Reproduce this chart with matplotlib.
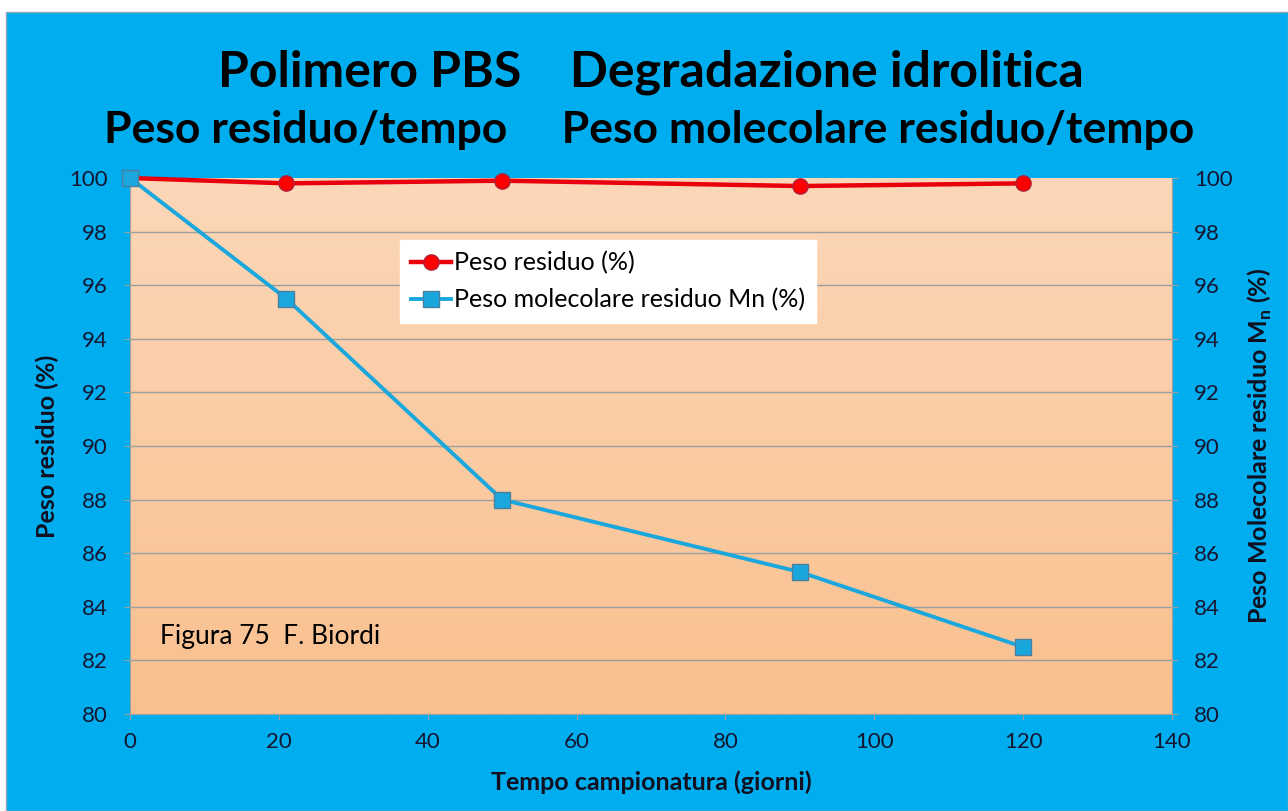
import matplotlib
matplotlib.use("Agg")
import matplotlib.pyplot as plt
from matplotlib.patches import Rectangle
from matplotlib.colors import LinearSegmentedColormap
import numpy as np

plt.rcParams['font.family'] = ['Lato', 'DejaVu Sans']

# data
giorni = [0, 21, 50, 90, 120]
peso_residuo = [100, 99.8, 99.9, 99.7, 99.8]
peso_mn = [100, 95.5, 88.0, 85.3, 82.5]
yticks = list(range(80, 101, 2))
xticks = list(range(0, 141, 20))

fig = plt.figure(figsize=(12.88, 8.11), dpi=100, facecolor='white')
# blue panel behind everything
fig.patches.append(Rectangle((6/1288, 0), 1 - 6/1288, 1 - 12/811, transform=fig.transFigure,
                             facecolor='#00AEEF', edgecolor='#8FA8B8', lw=1, zorder=-10))

ax = fig.add_axes([130/1288, 1 - 714/811, 1042/1288, 536/811])
ax.set_xlim(0, 140)
ax.set_ylim(80, 100)

# peach gradient background
grad = np.linspace(0, 1, 256).reshape(-1, 1)
cmap = LinearSegmentedColormap.from_list('peach', ['#FCD7B8', '#F9C08F'])
ax.imshow(grad, extent=[0, 140, 80, 100], aspect='auto', cmap=cmap, origin='upper', zorder=0)

for y in yticks[1:-1]:
    ax.axhline(y, color='#9E9E9E', lw=1, zorder=1)

ax.plot(giorni, peso_residuo, color='#E8000B', lw=3.2, marker='o', ms=11,
        markerfacecolor='#FF0000', markeredgecolor='#B0203A', markeredgewidth=1,
        label='Peso residuo (%)', zorder=3, clip_on=False)
ax.plot(giorni, peso_mn, color='#1AA7DD', lw=2.8, marker='s', ms=11,
        markerfacecolor='#1AA7DD', markeredgecolor='#4A7FA0', markeredgewidth=1,
        label='Peso molecolare residuo Mn (%)', zorder=4, clip_on=False)

tick_color = '#151530'
ax.set_xticks(xticks)
ax.set_yticks(yticks)
ax.tick_params(axis='both', colors='#9E9E9E', labelcolor=tick_color, labelsize=16, length=4)
ax.tick_params(axis='y', pad=12)
ax.tick_params(axis='x', pad=9)
for s in ['left', 'bottom', 'right']:
    ax.spines[s].set_color('#9E9E9E')
ax.spines['top'].set_visible(False)

ax2 = ax.twinx()
ax2.set_ylim(80, 100)
ax2.set_yticks(yticks)
ax2.tick_params(axis='y', colors='#9E9E9E', labelcolor=tick_color, labelsize=16, length=4, pad=12)
for s in ['left', 'bottom', 'top']:
    ax2.spines[s].set_visible(False)
ax2.spines['right'].set_color('#9E9E9E')

ax.set_xlabel('Tempo campionatura (giorni)', fontsize=18, fontweight='bold', color='#101020', labelpad=13)
ax.set_ylabel('Peso residuo (%)', fontsize=18, fontweight='bold', color='#101020', labelpad=7)
ax2.set_ylabel('Peso Molecolare residuo M$_\\mathregular{n}$ (%)', fontsize=18, fontweight='bold',
               color='#101020', labelpad=9)

leg = ax.legend(loc='upper left', bbox_to_anchor=(0.259, 0.884), fontsize=18, frameon=True,
                fancybox=False, framealpha=1, edgecolor='white', handlelength=1.6,
                handletextpad=0.1, borderpad=0.45, labelspacing=0.55, borderaxespad=0)

ax.text(4, 82.9, 'Figura 75  F. Biordi', fontsize=19, color='black', va='center', zorder=5)

fig.text(0.505, 1 - 72/811, 'Polimero PBS    Degradazione idrolitica', ha='center', va='center',
         fontsize=36, fontweight='bold', color='black')
fig.text(0.504, 1 - 130/811, 'Peso residuo/tempo     Peso molecolare residuo/tempo', ha='center',
         va='center', fontsize=32, fontweight='bold', color='black')

fig.savefig('out.png', dpi=100, facecolor=fig.get_facecolor())
